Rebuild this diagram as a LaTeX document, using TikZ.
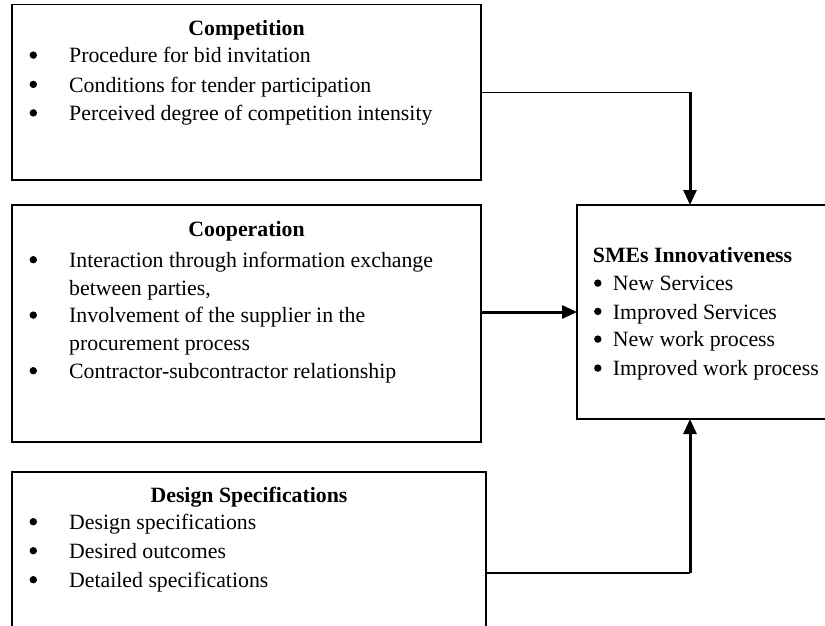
\documentclass[tikz,border=0pt]{standalone}
\usepackage{fontspec}
\setmainfont{Liberation Serif}
\usetikzlibrary{arrows.meta,calc}
\begin{document}
\begin{tikzpicture}[x=1pt,y=-1pt,
  box/.style={draw,line width=1.4pt,anchor=north west,inner sep=0pt,outer sep=0pt},
  txt/.style={anchor=base west,inner sep=0pt,font=\fontsize{21.8}{26}\selectfont},
  ttl/.style={anchor=base,inner sep=0pt,font=\fontsize{21.8}{26}\selectfont\bfseries},
  bul/.style={circle,fill,draw=none,inner sep=0pt,minimum size=7.4pt,yshift=7.6pt},
  thinline/.style={line width=1.4pt},
  thickline/.style={line width=3pt},
  tip/.style={-{Triangle[length=15pt,width=13pt]}}
]
\useasboundingbox (0,0) rectangle (825,625);
\clip (0,0) rectangle (825,625);

% boxes
\node[box,minimum width=469pt,minimum height=175.5pt] (comp) at (12,4.5) {};
\node[box,minimum width=469pt,minimum height=237pt] (coop) at (12,205) {};
\node[box,minimum width=474pt,minimum height=202pt] (des) at (12,472) {};
\node[box,minimum width=252pt,minimum height=214pt] (smes) at (577,205) {};

\coordinate (smesT) at ([xshift=113pt]smes.north west);
\coordinate (smesB) at ([xshift=113pt]smes.south west);

% Competition
\node[ttl] (compT) at (246.5,35) {Competition};
\node[bul] (cb1) at (33.3,62.7) {};
\node[txt] (c1) at (69,62.7) {Procedure for bid invitation};
\node[bul] (cb2) at (33.3,92) {};
\node[txt] (c2) at (69,92) {Conditions for tender participation};
\node[bul] (cb3) at (33.3,120.5) {};
\node[txt] (c3) at (69,120.5) {Perceived degree of competition intensity};

% Cooperation
\node[ttl] (coopT) at (246.5,236.7) {Cooperation};
\node[bul] (ob1) at (33.3,267.3) {};
\node[txt] (o1) at (69,267.3) {Interaction through information exchange};
\node[txt] (o1b) at (69,295.3) {between parties,};
\node[bul] (ob2) at (33.3,322.7) {};
\node[txt] (o2) at (69,322.7) {Involvement of the supplier in the};
\node[txt] (o2b) at (69,350) {procurement process};
\node[bul] (ob3) at (33.3,378.3) {};
\node[txt] (o3) at (69,378.3) {Contractor-subcontractor relationship};

% Design Specifications
\node[ttl] (desT) at (249,502) {Design Specifications};
\node[bul] (db1) at (33.3,529.3) {};
\node[txt] (d1) at (69,529.3) {Design specifications};
\node[bul] (db2) at (33.3,558.3) {};
\node[txt] (d2) at (69,558.3) {Desired outcomes};
\node[bul] (db3) at (33.3,587.3) {};
\node[txt] (d3) at (69,587.3) {Detailed specifications};

% SMEs Innovativeness
\node[txt,font=\fontsize{21.8}{26}\selectfont\bfseries] (smesTtl) at (592.7,262.7) {SMEs Innovativeness};
\node[bul] (sb1) at (597.8,290.7) {};
\node[txt] (s1) at (612.7,290.7) {New Services};
\node[bul] (sb2) at (597.8,319) {};
\node[txt] (s2) at (612.7,319) {Improved Services};
\node[bul] (sb3) at (597.8,346.7) {};
\node[txt] (s3) at (612.7,346.7) {New work process};
\node[bul] (sb4) at (597.8,375.7) {};
\node[txt] (s4) at (612.7,375.7) {Improved work process};

% connectors
\draw[thinline] (comp.east) -- (comp.east -| smesT);
\draw[thickline,tip] (comp.east -| smesT) -- (smesT);
\draw[thickline,tip] (coop.east |- smes.west) -- (smes.west);
\draw[thinline] (des.east) -- (des.east -| smesB);
\draw[thickline,tip] (des.east -| smesB) -- (smesB);
\end{tikzpicture}
\end{document}
